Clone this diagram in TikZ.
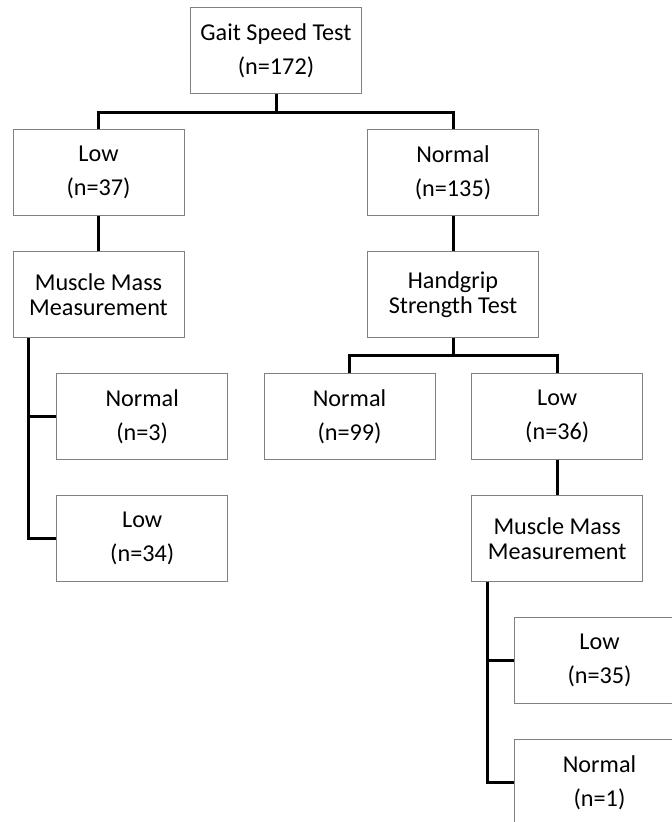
\documentclass[tikz,border=0pt]{standalone}
\usepackage{fontspec}
\setmainfont{Carlito}
\usetikzlibrary{calc}
\definecolor{boxgray}{RGB}{128,128,128}
\begin{document}
\begin{tikzpicture}[x=1pt,y=-1pt,
  box/.style={draw=boxgray, line width=0.9pt, fill=white, minimum width=171pt, minimum height=85.5pt,
    inner sep=0pt, align=center, font=\fontsize{24.2}{25}\selectfont},
  conn/.style={draw=black, line width=3pt, line join=miter}]
\useasboundingbox (0,0) rectangle (672,822);
\clip (0,0) rectangle (672,822);
\fill[white] (0,0) rectangle (672,822);
% nodes
\node[box] (gait) at (276,50.5) {Gait Speed Test\\[9pt](n=172)};
\node[box] (low1) at (98.5,172.5) {Low\\[9pt](n=37)};
\node[box] (norm1) at (453,172.5) {Normal\\[9pt](n=135)};
\node[box] (mm1) at (98.5,294.5) {Muscle Mass\\Measurement};
\node[box] (hand) at (453,294.5) {Handgrip\\Strength Test};
\node[box] (n3) at (142.2,416.3) {Normal\\[9pt](n=3)};
\node[box] (l34) at (142.2,538.3) {Low\\[9pt](n=34)};
\node[box] (n99) at (349.5,416.3) {Normal\\[9pt](n=99)};
\node[box] (l36) at (557.2,416.3) {Low\\[9pt](n=36)};
\node[box] (mm2) at (557.2,538.3) {Muscle Mass\\Measurement};
\node[box] (l35) at (599.5,660.3) {Low\\[9pt](n=35)};
\node[box] (n1) at (599.5,782.3) {Normal\\[9pt](n=1)};
% connectors
\coordinate (j1) at (276,112);
\draw[conn] (gait.south) -- (j1);
\draw[conn] (low1.north) |- (j1) -| (norm1.north);
\draw[conn] (low1.south) -- (mm1.north);
\draw[conn] (norm1.south) -- (hand.north);
\coordinate (b1) at ($(mm1.south west)+(16,0)$);
\draw[conn] (b1) |- (l34.west);
\draw[conn] (b1 |- n3.west) -- (n3.west);
\coordinate (j2) at (453,355);
\draw[conn] (hand.south) -- (j2);
\draw[conn] (n99.north) |- (j2) -| (l36.north);
\draw[conn] (l36.south) -- (mm2.north);
\coordinate (b2) at ($(mm2.south west)+(16,0)$);
\draw[conn] (b2) |- (n1.west);
\draw[conn] (b2 |- l35.west) -- (l35.west);
\end{tikzpicture}
\end{document}
